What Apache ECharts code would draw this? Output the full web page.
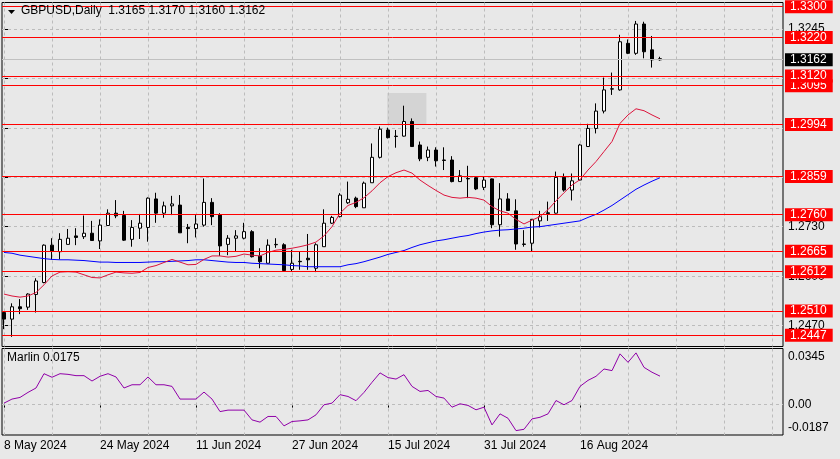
<!DOCTYPE html>
<html><head><meta charset="utf-8">
<script src="https://cdn.jsdelivr.net/npm/echarts@6/dist/echarts.min.js"></script>
<style>html,body{margin:0;padding:0;background:#e8e8e8}#c{width:840px;height:459px}</style>
</head><body><div id="c"></div>
<script>
const symbolTitle = 'GBPUSD,Daily  1.3165 1.3170 1.3160 1.3162';
const marlinTitle = 'Marlin 0.0175';
const dateLabels = ['8 May 2024','24 May 2024','11 Jun 2024','27 Jun 2024','15 Jul 2024','31 Jul 2024','16 Aug 2024'];
const dateLabelIdx = [0,12,24,36,48,60,72];

const opens  = [1.2506,1.2489,1.2521,1.2520,1.2553,1.2584,1.2681,1.2664,1.2683,1.2705,1.2703,1.2712,1.2692,1.2732,1.2764,1.2758,1.2696,1.2725,1.2727,1.2801,1.2764,1.2783,1.2785,1.2727,1.2724,1.2733,1.2792,1.2759,1.2683,1.2699,1.2699,1.2716,1.2653,1.2634,1.2682,1.2682,1.2618,1.2639,1.2647,1.2621,1.2677,1.2738,1.2755,1.2791,1.2803,1.2778,1.2843,1.2909,1.2980,1.2964,1.2964,1.3002,1.2941,1.2909,1.2928,1.2902,1.2902,1.2846,1.2854,1.2856,1.2831,1.2853,1.2734,1.2801,1.2770,1.2684,1.2686,1.2744,1.2765,1.2764,1.2857,1.2824,1.2850,1.2937,1.2984,1.3029,1.3086,1.3084,1.3205,1.3179,1.3255,1.3188,1.3165];
const highs  = [1.2510,1.2530,1.2541,1.2556,1.2595,1.2683,1.2699,1.2712,1.2723,1.2725,1.2758,1.2744,1.2748,1.2774,1.2798,1.2770,1.2746,1.2762,1.2805,1.2817,1.2794,1.2809,1.2811,1.2736,1.2759,1.2854,1.2803,1.2764,1.2707,1.2720,1.2739,1.2720,1.2673,1.2696,1.2699,1.2686,1.2669,1.2665,1.2710,1.2686,1.2774,1.2757,1.2816,1.2846,1.2807,1.2846,1.2945,1.2989,1.2986,1.2980,1.3043,1.3010,1.2950,1.2937,1.2935,1.2935,1.2912,1.2876,1.2887,1.2859,1.2859,1.2854,1.2842,1.2816,1.2800,1.2720,1.2749,1.2770,1.2794,1.2872,1.2867,1.2867,1.2944,1.2996,1.3049,1.3116,1.3129,1.3227,1.3215,1.3263,1.3261,1.3224,1.3170];
const lows   = [1.2463,1.2443,1.2502,1.2513,1.2506,1.2582,1.2643,1.2644,1.2683,1.2681,1.2697,1.2692,1.2671,1.2731,1.2751,1.2692,1.2677,1.2697,1.2690,1.2739,1.2752,1.2759,1.2713,1.2686,1.2701,1.2729,1.2733,1.2653,1.2655,1.2666,1.2696,1.2649,1.2621,1.2633,1.2674,1.2612,1.2612,1.2617,1.2617,1.2611,1.2677,1.2736,1.2753,1.2788,1.2777,1.2778,1.2843,1.2906,1.2958,1.2934,1.2963,1.2937,1.2899,1.2899,1.2885,1.2876,1.2844,1.2846,1.2803,1.2824,1.2824,1.2725,1.2703,1.2771,1.2669,1.2677,1.2664,1.2727,1.2744,1.2763,1.2820,1.2797,1.2849,1.2936,1.2971,1.3023,1.3071,1.3082,1.3177,1.3175,1.3166,1.3142,1.3160];
const closes = [1.2489,1.2521,1.2516,1.2554,1.2588,1.2681,1.2666,1.2696,1.2699,1.2701,1.2712,1.2693,1.2733,1.2764,1.2757,1.2694,1.2727,1.2738,1.2803,1.2764,1.2783,1.2788,1.2713,1.2724,1.2736,1.2792,1.2755,1.2679,1.2699,1.2705,1.2716,1.2651,1.2638,1.2681,1.2683,1.2615,1.2634,1.2638,1.2643,1.2682,1.2738,1.2753,1.2811,1.2800,1.2781,1.2842,1.2909,1.2982,1.2960,1.2963,1.3002,1.2937,1.2905,1.2928,1.2900,1.2901,1.2846,1.2861,1.2853,1.2827,1.2850,1.2734,1.2801,1.2771,1.2684,1.2683,1.2748,1.2755,1.2763,1.2857,1.2824,1.2848,1.2941,1.2984,1.3029,1.3084,1.3087,1.3209,1.3179,1.3255,1.3183,1.3162,1.3162];

const maFast = [1.2554,1.2549,1.2546,1.2549,1.2558,1.2578,1.2601,1.2611,1.2612,1.2611,1.2604,1.2597,1.2596,1.2604,1.2611,1.2609,1.2608,1.2610,1.2623,1.2628,1.2636,1.2644,1.2637,1.2630,1.2631,1.2644,1.2653,1.2653,1.2650,1.2652,1.2658,1.2655,1.2653,1.2662,1.2668,1.2670,1.2673,1.2677,1.2682,1.2689,1.2705,1.2729,1.2764,1.2784,1.2792,1.2804,1.2822,1.2843,1.2859,1.2869,1.2876,1.2868,1.2850,1.2836,1.2823,1.2811,1.2805,1.2803,1.2805,1.2803,1.2798,1.2781,1.2770,1.2764,1.2748,1.2736,1.2746,1.2755,1.2773,1.2796,1.2817,1.2837,1.2851,1.2876,1.2898,1.2924,1.2950,1.2997,1.3019,1.3035,1.3030,1.3019,1.3009];
const maSlow = [1.2662,1.2660,1.2655,1.2652,1.2649,1.2646,1.2644,1.2643,1.2643,1.2642,1.2641,1.2639,1.2637,1.2637,1.2636,1.2636,1.2636,1.2636,1.2637,1.2638,1.2638,1.2639,1.2640,1.2641,1.2643,1.2643,1.2641,1.2639,1.2637,1.2636,1.2636,1.2634,1.2633,1.2632,1.2631,1.2630,1.2628,1.2627,1.2625,1.2625,1.2625,1.2625,1.2625,1.2630,1.2633,1.2638,1.2644,1.2650,1.2657,1.2662,1.2667,1.2675,1.2682,1.2687,1.2692,1.2695,1.2699,1.2703,1.2706,1.2711,1.2715,1.2718,1.2720,1.2721,1.2723,1.2725,1.2728,1.2729,1.2732,1.2735,1.2738,1.2741,1.2744,1.2753,1.2761,1.2772,1.2784,1.2798,1.2812,1.2826,1.2837,1.2847,1.2856];
const marlin = [0.0009,0.0034,0.0044,0.0075,0.0102,0.0190,0.0168,0.0190,0.0186,0.0178,0.0178,0.0145,0.0174,0.0190,0.0170,0.0102,0.0122,0.0122,0.0170,0.0122,0.0122,0.0112,0.0034,0.0034,0.0034,0.0077,0.0034,-0.0043,-0.0034,-0.0034,-0.0034,-0.0094,-0.0108,-0.0073,-0.0073,-0.0131,-0.0104,-0.0100,-0.0094,-0.0063,-0.0001,0.0009,0.0061,0.0050,0.0024,0.0075,0.0137,0.0195,0.0166,0.0157,0.0184,0.0112,0.0081,0.0087,0.0050,0.0040,-0.0016,0.0005,-0.0005,-0.0032,-0.0016,-0.0125,-0.0057,-0.0084,-0.0160,-0.0152,-0.0088,-0.0078,-0.0057,0.0025,-0.0001,0.0025,0.0112,0.0149,0.0174,0.0219,0.0209,0.0312,0.0260,0.0318,0.0229,0.0199,0.0175];

const levels = [1.3300,1.3220,1.3095,1.3120,1.2994,1.2859,1.2760,1.2665,1.2612,1.2510,1.2447];
const lastPrice = 1.3162;
const priceTickValues = [1.2472,1.2600,1.2729,1.2857,1.2985,1.3114,1.3242];
const priceTickLabels = ['1.2470','1.2600','1.2730','1.2860','1.2990','1.3115','1.3245'];
const marlinTickValues = [-0.0187,0,0.0345];
const marlinTickLabels = ['-0.0187','0.00','0.0345'];
const zoneDays = [47.9, 52.8];
const zonePrices = [1.2995, 1.3076];

const FONT = 'Liberation Sans';
const FS = 12;
const X_MIN = -0.25, X_MAX = 97.375;
const P_MIN = 1.24179, P_MAX = 1.33109;
const M_MIN = -0.0187, M_MAX = 0.0345;
const gridDays = [];
for (let k = 0; k <= 96; k += 6) gridDays.push(k);

const idx = opens.map((_, i) => i);
const candleData = idx.map(i => [i, opens[i], closes[i], lows[i], highs[i]]);
const snap = c => Math.floor(c) + 0.5;

// crisp full-width lines: data [x, y, kind(0=horizontal,1=vertical), colorIndex]
const lineColors = ['#bcbcbc', '#ff0000', '#c0c0c0'];
function crispLine(params, api) {
  const cs = params.coordSys;
  const kind = api.value(2);
  const color = lineColors[api.value(3)];
  const dash = api.value(3) === 0 ? [3, 3] : null;
  const pt = api.coord([api.value(0), api.value(1)]);
  if (kind === 0) {
    const y = snap(pt[1]);
    return {type:'line', shape:{x1:cs.x, y1:y, x2:cs.x + cs.width, y2:y}, style:{stroke:color, lineWidth:1, lineDash:dash}};
  }
  const x = snap(pt[0]);
  return {type:'line', shape:{x1:x, y1:cs.y, x2:x, y2:cs.y + cs.height}, style:{stroke:color, lineWidth:1, lineDash:dash}};
}

const labelBase = {show:true, position:'end', distance:2, color:'#fff', fontSize:FS, fontFamily:FONT, lineHeight:12, padding:[1,6,0,5], opacity:1};

const chart = echarts.init(document.getElementById('c'));
chart.setOption({
  backgroundColor:'#e8e8e8',
  animation:false,
  textStyle:{fontFamily:FONT},
  title:[
    {text:symbolTitle, left:16, top:0, textStyle:{fontFamily:FONT, fontSize:FS, fontWeight:'normal', color:'#000'}},
    {text:marlinTitle, left:2, top:347, textStyle:{fontFamily:FONT, fontSize:FS, fontWeight:'normal', color:'#000'}}
  ],
  graphic:[{type:'polygon', shape:{points:[[8,10],[15,10],[11.5,14]]}, style:{fill:'#000'}}],
  grid:[
    {left:2, top:2.5, width:781, height:344, show:true, borderColor:'#000', borderWidth:1, backgroundColor:'transparent'},
    {left:2, top:348.5, width:781, height:86.5, show:true, borderColor:'#000', borderWidth:1, backgroundColor:'transparent'}
  ],
  xAxis:[
    {type:'value', gridIndex:0, min:X_MIN, max:X_MAX, axisLabel:{show:false}, axisTick:{show:false}, axisLine:{show:false}, splitLine:{show:false}},
    {type:'value', gridIndex:1, min:X_MIN, max:X_MAX, axisLine:{show:false}, splitLine:{show:false},
     axisTick:{show:true, customValues:dateLabelIdx, length:3, lineStyle:{color:'#000'}},
     axisLabel:{customValues:dateLabelIdx, formatter:v => dateLabels[dateLabelIdx.indexOf(v)], align:'left', margin:5, color:'#000', fontSize:FS, fontFamily:FONT}}
  ],
  yAxis:[
    {type:'value', gridIndex:0, position:'right', min:P_MIN, max:P_MAX, splitLine:{show:false}, axisLine:{show:false},
     axisTick:{show:true, customValues:priceTickValues, length:4, lineStyle:{color:'#000'}},
     axisLabel:{customValues:priceTickValues, formatter:v => priceTickLabels[priceTickValues.indexOf(v)], margin:5, color:'#000', fontSize:FS, fontFamily:FONT}},
    {type:'value', gridIndex:1, position:'right', min:M_MIN, max:M_MAX, splitLine:{show:false}, axisLine:{show:false},
     axisTick:{show:false},
     axisLabel:{customValues:marlinTickValues, margin:5, color:'#000', fontSize:FS, fontFamily:FONT,
       formatter:v => { const i = marlinTickValues.indexOf(v); const t = marlinTickLabels[i]; return i === 2 ? '{t|' + t + '}' : (i === 0 ? '{b|' + t + '}' : t); },
       rich:{t:{padding:[16,0,0,0], fontSize:FS, fontFamily:FONT, color:'#000'}, b:{padding:[0,0,14,0], fontSize:FS, fontFamily:FONT, color:'#000'}}}}
  ],
  series:[
    {type:'custom', xAxisIndex:0, yAxisIndex:0, z:1, silent:true, encode:{x:0, y:1}, renderItem:crispLine,
     data:[...priceTickValues.map(v => [0, v, 0, 0]), ...gridDays.map(d => [d, P_MIN, 1, 0])]},
    {type:'custom', xAxisIndex:1, yAxisIndex:1, z:1, silent:true, encode:{x:0, y:1}, renderItem:crispLine,
     data:[[0, 0, 0, 0], ...gridDays.map(d => [d, M_MIN, 1, 0])]},
    {type:'candlestick', xAxisIndex:0, yAxisIndex:0, data:candleData, encode:{x:0, y:[1,2,3,4]}, barWidth:4, z:2,
     itemStyle:{color:'#ffffff', color0:'#000000', borderColor:'#000000', borderColor0:'#000000', borderWidth:1},
     markArea:{silent:true, precision:5, itemStyle:{color:'#d4d4d4'},
       data:[[{xAxis:zoneDays[0], yAxis:zonePrices[1]}, {xAxis:zoneDays[1], yAxis:zonePrices[0]}]]}
    },
    {type:'line', xAxisIndex:0, yAxisIndex:0, data:idx.map(i => [i, maSlow[i]]), symbol:'none', lineStyle:{color:'#0000ff', width:1}, z:3},
    {type:'line', xAxisIndex:0, yAxisIndex:0, data:idx.map(i => [i, maFast[i]]), symbol:'none', lineStyle:{color:'#dc143c', width:1}, z:3,
     markLine:{silent:true, z:6, precision:5, symbol:['none','none'], lineStyle:{color:'rgba(0,0,0,0)', width:1, type:'solid'},
       data:[
         {yAxis:lastPrice, label:Object.assign({}, labelBase, {backgroundColor:'#000', formatter:() => lastPrice.toFixed(4)})},
         ...levels.map(v => ({yAxis:v, label:Object.assign({}, labelBase, {backgroundColor:'#ff0000', formatter:() => v.toFixed(4)})}))
       ]}
    },
    {type:'custom', xAxisIndex:0, yAxisIndex:0, z:4, silent:true, encode:{x:0, y:1}, renderItem:crispLine,
     data:[[0, lastPrice, 0, 2], ...levels.map(v => [0, v, 0, 1])]},
    {type:'line', xAxisIndex:1, yAxisIndex:1, data:idx.map(i => [i, marlin[i]]), symbol:'none', lineStyle:{color:'#9000a8', width:1}, z:3}
  ]
});
</script></body></html>
